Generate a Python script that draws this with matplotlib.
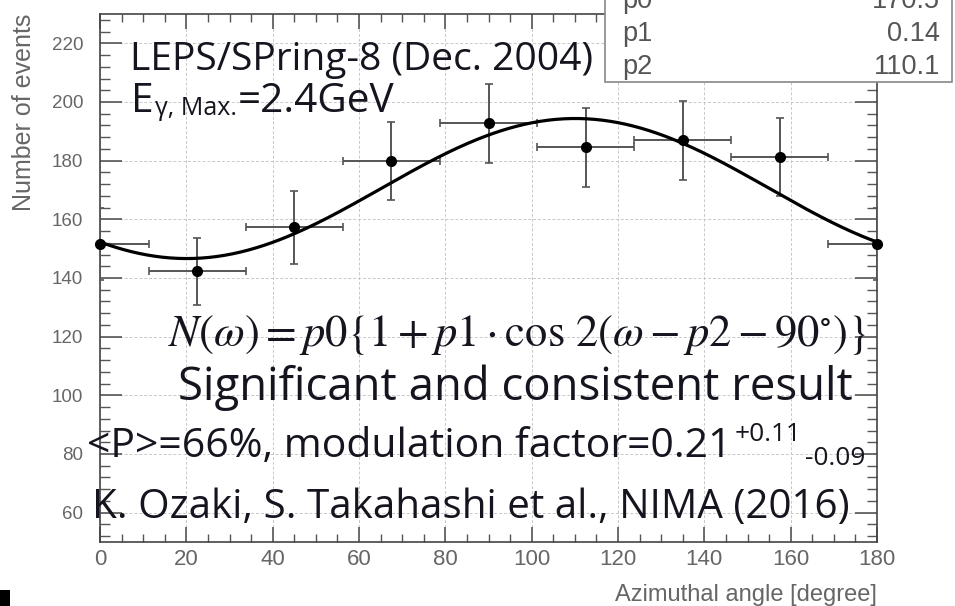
import numpy as np
import matplotlib
matplotlib.use("Agg")
import matplotlib.pyplot as plt
from matplotlib.ticker import MultipleLocator, AutoMinorLocator
from matplotlib.patches import Rectangle

# measured points (azimuthal bins of 22.5 deg)
angles = [0, 22.5, 45, 67.5, 90, 112.5, 135, 157.5, 180]
counts = [151.5, 142.3, 157.3, 179.9, 192.7, 184.5, 187.0, 181.3, 151.5]
count_err = [12.3, 11.5, 12.5, 13.4, 13.6, 13.5, 13.5, 13.2, 12.3]
bin_half = [11.25] * 9

# fit parameters (stats box)
par_names = ["p0", "p1", "p2"]
par_vals = ["170.5", "0.14", "110.1"]
p0, p1, p2 = 170.5, 0.14, 110.1

W, H = 955, 606
plt.rcParams['mathtext.fontset'] = 'stix'
fig = plt.figure(figsize=(W / 100, H / 100), dpi=100)
ax = fig.add_axes([100 / W, 64 / H, 777 / W, 528 / H])
renderer = fig.canvas.get_renderer()

ax.errorbar(angles, counts, yerr=count_err, xerr=bin_half, fmt='none',
            ecolor='#555555', elinewidth=1.4, capsize=3, capthick=1.2, zorder=3)
ax.plot(angles, counts, 'o', color='black', ms=7, zorder=5, clip_on=False)

w = np.linspace(0, 180, 400)
ax.plot(w, p0 * (1 + p1 * np.cos(np.radians(2 * (w - p2)))), color='black', lw=2.3, zorder=4)

ax.set_xlim(0, 180)
ax.set_ylim(50, 230)
ax.xaxis.set_major_locator(MultipleLocator(20))
ax.xaxis.set_minor_locator(AutoMinorLocator(4))
ax.set_yticks(range(60, 221, 20))
ax.yaxis.set_minor_locator(MultipleLocator(4))
ax.grid(True, which='major', color='#c8c8c8', lw=0.7, ls=(0, (3, 2)))
ax.set_axisbelow(True)

for s in ax.spines.values():
    s.set_color('#444444')
    s.set_linewidth(1.2)
ax.tick_params(which='both', direction='in', top=True, right=True, colors='#555555',
               labelcolor='#666666', labelfontfamily='Liberation Sans')
ax.tick_params(axis='y', which='major', length=16, width=1.2, pad=12, labelsize=13.5)
ax.tick_params(axis='y', which='minor', length=7, width=1.0)
ax.tick_params(axis='x', which='major', length=11, width=1.2, pad=5, labelsize=16)
ax.tick_params(axis='x', which='minor', length=6, width=1.0)

ax.set_ylabel("Number of events", fontsize=18, color='#666666', family='Liberation Sans',
              loc='top')
ax.yaxis.set_label_coords(-0.083, 1.0)
ax.set_xlabel("Azimuthal angle [degree]", fontsize=17, color='#666666', family='Liberation Sans',
              loc='right')
ax.xaxis.set_label_coords(1.0, -0.08)

# stats box (cut at top of picture)
box = Rectangle((605 / W, 1 - 82 / H), 347 / W, 0.2, transform=fig.transFigure,
                facecolor='white', edgecolor='#888888', lw=1.2, zorder=10)
fig.patches.append(box)
for i, (n, v) in enumerate(zip(par_names, par_vals)):
    yy = 1 - (1 + i * 33) / H
    fig.text(622 / W, yy, n, fontsize=19.5, color='#555555', family='Liberation Sans',
             va='center', zorder=11)
    fig.text(940 / W, yy, v, fontsize=19.5, color='#555555', family='Liberation Sans',
             va='center', ha='right', zorder=11)

tc = '#15151f'


def put(s, x0, ybase, size, family='Open Sans'):
    # text whose ink starts at pixel x0, baseline at ybase; returns its right edge
    t = fig.text(x0 / W, 1 - ybase / H, s, fontsize=size, family=family, color=tc,
                 va='baseline', ha='left', zorder=12)
    bb = t.get_window_extent(renderer)
    t.set_x((2 * x0 - bb.x0) / W)
    return t.get_window_extent(renderer).x1


def fit_size(s, span, family='Open Sans'):
    t = fig.text(0, 0, s, fontsize=20, family=family)
    wd = t.get_window_extent(renderer).width
    t.remove()
    return 20 * span / wd


k = 0.96
big = fit_size("LEPS/SPring-8 (Dec. 2004)", (612 - 130) * k)
put("LEPS/SPring-8 (Dec. 2004)", 130, 70, big)
xe = put("E", 131, 112, big * 1.04)
xe = put("γ, Max.", xe + 1, 115, big * 0.64)
put("=2.4GeV", xe + 1, 112, big * 1.04)

formula = r"$N(\omega)=p0\left\{1+p1\cdot\cos\,2(\omega-p2-90^{\circ})\right\}$"
put(formula, 168, 346, fit_size(formula, 700, 'STIXGeneral'), family='STIXGeneral')

put("Significant and consistent result", 178, 400,
    fit_size("Significant and consistent result", 700 * k))

mod = fit_size("<P>=66%, modulation factor=0.21", (752 - 87) * 0.97)
xm = put("<P>=66%, modulation factor=0.21", 87, 457, mod)
xm = put("+0.11", xm + 3, 441, mod * 0.64)
put("-0.09", xm + 4, 465, mod * 0.64)

put("K. Ozaki, S. Takahashi et al., NIMA (2016)", 92, 518,
    fit_size("K. Ozaki, S. Takahashi et al., NIMA (2016)", 788 * k))

# cut-off mark at the lower left corner
fig.patches.append(Rectangle((0, 0), 10 / W, 16 / H, transform=fig.transFigure,
                             facecolor='black', edgecolor='none'))

fig.savefig("out.png", dpi=100)
